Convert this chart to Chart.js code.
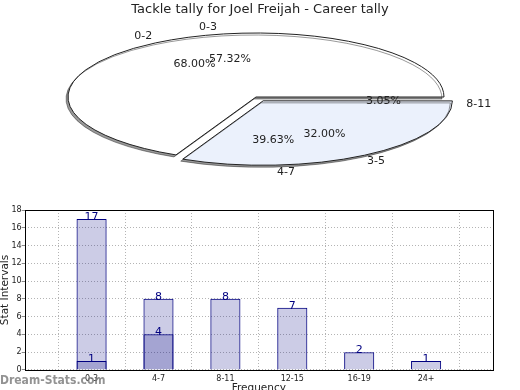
<!DOCTYPE html>
<html>
<head>
<meta charset="utf-8">
<script src="https://cdn.jsdelivr.net/npm/chart.js@4.4.1/dist/chart.umd.min.js"></script>
<style>
  html, body { margin: 0; padding: 0; background: #fff; overflow: hidden; }
  #wrap { position: relative; width: 520px; height: 390px; overflow: hidden; }
  #pie { position: absolute; left: 0; top: 0; }
  #bars { position: absolute; left: 0; top: 200px; }
  #mark { position: absolute; left: 0; top: 373px; font: bold 12px 'DejaVu Sans Condensed', 'DejaVu Sans', sans-serif; color: rgba(120, 120, 120, 0.8); }
</style>
</head>
<body>
<div id="wrap">
  <canvas id="pie" width="520" height="200"></canvas>
  <canvas id="bars" width="520" height="194"></canvas>
  <div id="mark">Dream-Stats.com</div>
</div>
<script>
const chartTitle = 'Tackle tally for Joel Freijah - Career tally';

// pie: two tallies laid over each other
const splitLabels = ['0-2', '3-5'];
const splitValues = [68.00, 32.00];
const rangeLabels = ['0-3', '4-7', '8-11'];
const rangeValues = [57.32, 39.63, 3.05];

// bars
const tickLabels = ['0-3', '4-7', '8-11', '12-15', '16-19', '24+'];
const tallyValues = [17, 8, 8, 7, 2, 1];
const overlapValues = [1, 4, null, null, null, null];

Chart.defaults.font.family = 'DejaVu Sans';
Chart.defaults.color = '#222';
Chart.defaults.animation = false;

// where the flattened pie sits
const PIE_CX = 256, PIE_CY = 97, PIE_RX = 188, PIE_RY = 64;

function pieMap(chart, x, y) {
  const arc = chart.getDatasetMeta(0).data[0];
  const r = arc.outerRadius;
  return [PIE_CX + (x - arc.x) * PIE_RX / r, PIE_CY + (y - arc.y) * PIE_RY / r];
}

const flatPie = {
  id: 'flatPie',
  beforeDatasetsDraw(chart) {
    const ctx = chart.ctx;
    const arc = chart.getDatasetMeta(0).data[0];
    const r = arc.outerRadius;
    ctx.save();
    const base = ctx.getTransform();
    ctx.translate(PIE_CX, PIE_CY);
    ctx.scale(PIE_RX / r, PIE_RY / r);
    ctx.translate(-arc.x, -arc.y);
    ctx.shadowColor = 'rgba(0, 0, 0, 0.4)';
    ctx.shadowOffsetX = -2;
    ctx.shadowOffsetY = 2;
    // keep outlines 1px even though the pie is squashed
    const stroke = ctx.stroke;
    ctx.stroke = function () {
      this.save();
      this.setTransform(base);
      stroke.call(this);
      this.restore();
    };
  },
  beforeDatasetDraw(chart, args) {
    // second tally only gives labels, its slices are not drawn
    if (args.index === 1) return false;
  },
  afterDatasetsDraw(chart) {
    delete chart.ctx.stroke;
    chart.ctx.restore();
  }
};

const pieLabels = {
  id: 'pieLabels',
  afterDraw(chart) {
    const ctx = chart.ctx;
    const R = chart.getDatasetMeta(0).data[0].outerRadius;
    ctx.save();
    ctx.font = '11px "DejaVu Sans"';
    ctx.fillStyle = '#222';
    ctx.textAlign = 'center';
    ctx.textBaseline = 'middle';
    chart.data.datasets.forEach((ds, di) => {
      const total = ds.data.reduce((a, b) => a + b, 0);
      chart.getDatasetMeta(di).data.forEach((arc, i) => {
        const mid = (arc.startAngle + arc.endAngle) / 2;
        const shift = (arc.options.offset || 0) / 4;
        const put = (k, text) => {
          const d = R * k + shift;
          const p = pieMap(chart, arc.x + Math.cos(mid) * d, arc.y + Math.sin(mid) * d);
          ctx.fillText(text, p[0], p[1]);
        };
        put(0.61, (ds.data[i] / total * 100).toFixed(2) + '%');
        put(1.12, ds.names[i]);
      });
    });
    ctx.restore();
  }
};

// pie goes counter-clockwise from 3 o'clock, chart.js goes clockwise
const rev = arr => arr.slice().reverse();

new Chart(document.getElementById('pie'), {
  type: 'pie',
  data: {
    datasets: [
      {
        names: rev(splitLabels),
        data: rev(splitValues),
        backgroundColor: ['#ebf1fc', '#ffffff'],
        borderColor: '#222',
        borderWidth: 1,
        offset: [22, 0],
        clip: false
      },
      {
        names: rev(rangeLabels),
        data: rev(rangeValues),
        backgroundColor: 'transparent',
        borderColor: 'transparent',
        borderWidth: 1,
        offset: [22, 22, 0],
        weight: 0,
        clip: false
      }
    ]
  },
  options: {
    responsive: false,
    rotation: 90,
    plugins: {
      legend: { display: false },
      tooltip: { enabled: false },
      title: {
        display: true,
        text: chartTitle,
        color: '#222',
        font: { size: 13, weight: 'normal' },
        padding: { top: 2, bottom: 4 }
      }
    }
  },
  plugins: [flatPie, pieLabels]
});

const frame = {
  id: 'frame',
  afterDatasetsDraw(chart) {
    const { left, top, right, bottom } = chart.chartArea;
    const ctx = chart.ctx;
    ctx.save();
    ctx.strokeStyle = '#000';
    ctx.lineWidth = 1;
    ctx.strokeRect(Math.round(left) + 0.5, Math.round(top) + 0.5, Math.round(right - left), Math.round(bottom - top));
    ctx.restore();
  }
};

const barValues = {
  id: 'barValues',
  afterDatasetsDraw(chart) {
    const ctx = chart.ctx;
    ctx.save();
    ctx.font = '11px "DejaVu Sans"';
    ctx.fillStyle = '#000080';
    ctx.textAlign = 'center';
    ctx.textBaseline = 'alphabetic';
    chart.data.datasets.forEach((ds, di) => {
      chart.getDatasetMeta(di).data.forEach((bar, i) => {
        if (ds.data[i] == null) return;
        ctx.fillText(ds.data[i], bar.x, bar.y + 1);
      });
    });
    ctx.restore();
  }
};

// one empty slot on each side of the categories
const pad = arr => [null, ...arr, null];
const barStyle = {
  backgroundColor: 'rgba(0, 0, 128, 0.2)',
  borderColor: '#000080',
  borderWidth: 1,
  grouped: false,
  barPercentage: 0.45,
  categoryPercentage: 1
};

new Chart(document.getElementById('bars'), {
  type: 'bar',
  data: {
    labels: ['', ...tickLabels, ''],
    datasets: [
      Object.assign({ data: pad(overlapValues) }, barStyle),
      Object.assign({ data: pad(tallyValues) }, barStyle)
    ]
  },
  options: {
    responsive: false,
    layout: { padding: { top: 10, right: 27, left: 0, bottom: 0 } },
    plugins: { legend: { display: false }, tooltip: { enabled: false } },
    scales: {
      x: {
        offset: false,
        grid: { color: '#b4b4b4', drawTicks: false },
        border: { display: false, dash: [1, 2] },
        ticks: { font: { size: 8 }, color: '#222', padding: 4, autoSkip: false, maxRotation: 0 },
        title: { display: true, text: 'Frequency', color: '#222', font: { size: 10.5, lineHeight: 1 }, padding: { top: -4, bottom: 0 } }
      },
      y: {
        min: 0,
        max: 18,
        ticks: { stepSize: 2, font: { size: 8 }, color: '#222', padding: 0 },
        grid: { color: '#b4b4b4', tickLength: 3, tickColor: '#888', tickBorderDash: [] },
        border: { display: false, dash: [1, 2] },
        title: { display: true, text: 'Stat Intervals', color: '#222', font: { size: 10.5, lineHeight: 1 }, padding: { top: 0, bottom: 1 } }
      }
    }
  },
  plugins: [frame, barValues]
});
</script>
</body>
</html>
